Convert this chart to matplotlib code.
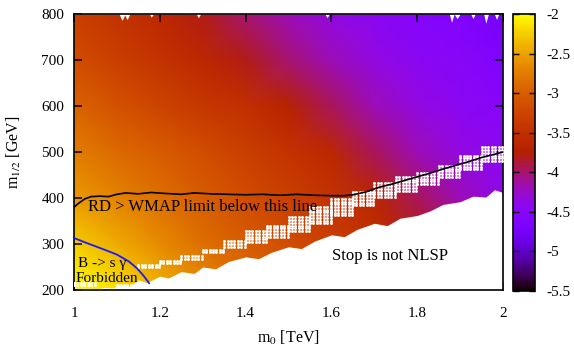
import numpy as np
import matplotlib
matplotlib.use("Agg")
import matplotlib.pyplot as plt

plt.rcParams['font.family'] = ['Liberation Serif', 'DejaVu Serif']
plt.rcParams['mathtext.fontset'] = 'stix'

# grid of the colour map
m0_grid = [1.0, 1.1, 1.2, 1.3, 1.4, 1.5, 1.6, 1.7, 1.8, 1.9, 2.0]
m12_grid = [200, 300, 400, 500, 600, 700, 800]
z_200 = [-2.0, -2.15, -2.4, -2.65, -2.85, -3.0, -3.15, -3.35, -3.55, -3.8, -4.05]
z_300 = [-2.25, -2.45, -2.65, -2.85, -3.0, -3.15, -3.3, -3.5, -3.75, -4.0, -4.25]
z_400 = [-2.55, -2.7, -2.85, -3.0, -3.15, -3.3, -3.45, -3.65, -3.95, -4.2, -4.4]
z_500 = [-2.75, -2.9, -3.0, -3.15, -3.3, -3.45, -3.6, -3.95, -4.2, -4.35, -4.45]
z_600 = [-2.95, -3.1, -3.25, -3.4, -3.5, -3.7, -3.95, -4.2, -4.35, -4.45, -4.5]
z_700 = [-3.15, -3.3, -3.45, -3.6, -3.8, -4.0, -4.2, -4.35, -4.45, -4.5, -4.6]
z_800 = [-3.3, -3.45, -3.6, -3.8, -4.0, -4.2, -4.35, -4.45, -4.55, -4.6, -4.75]

# lower edge of the scanned region ("Stop is not NLSP" below)
bound_m0 = [1.0, 1.03, 1.05, 1.07, 1.09, 1.11, 1.13, 1.15, 1.17, 1.20, 1.22, 1.25,
            1.28, 1.30, 1.33, 1.36, 1.40, 1.43, 1.46, 1.50, 1.53, 1.56, 1.60, 1.63,
            1.66, 1.70, 1.73, 1.76, 1.80, 1.83, 1.86, 1.90, 1.93, 1.96, 1.98, 2.0]
bound_m12 = [200, 203, 200, 206, 204, 212, 208, 222, 216, 230, 226, 240,
             236, 250, 246, 262, 272, 268, 282, 294, 290, 306, 320, 316,
             332, 345, 340, 356, 362, 372, 386, 392, 404, 402, 418, 412]

# upper edge (little gaps at 800 GeV)
top_m0 = [1.0, 1.105, 1.112, 1.118, 1.124, 1.13, 1.176, 1.18, 1.185, 1.285, 1.29,
          1.295, 1.585, 1.59, 1.595, 1.875, 1.88, 1.886, 1.893, 1.9, 1.925, 1.93,
          1.935, 1.955, 1.96, 1.966, 1.98, 1.985, 1.99, 2.0]
top_m12 = [800, 800, 786, 798, 788, 800, 800, 793, 800, 800, 792,
           800, 800, 792, 800, 800, 782, 800, 790, 800, 800, 790,
           800, 800, 780, 800, 800, 788, 800, 800]

# RD > WMAP contour
wmap_m0 = [1.0, 1.01, 1.025, 1.04, 1.06, 1.08, 1.10, 1.12, 1.15, 1.18, 1.21, 1.25,
           1.28, 1.32, 1.36, 1.40, 1.44, 1.48, 1.52, 1.56, 1.60, 1.63, 1.65, 1.68,
           1.71, 1.74, 1.77, 1.80, 1.83, 1.86, 1.89, 1.92, 1.95, 1.98, 2.0]
wmap_m12 = [380, 388, 398, 403, 404, 403, 408, 411, 409, 412, 410, 408,
            411, 409, 408, 407, 408, 406, 408, 406, 405, 405, 407, 413,
            423, 430, 438, 446, 454, 463, 471, 479, 488, 495, 500]

# b -> s gamma limit
bsg_m0 = [1.0, 1.03, 1.07, 1.10, 1.128, 1.147, 1.163, 1.175]
bsg_m12 = [313, 302, 288, 277, 262, 247, 230, 215]

# band of white scan points (per 0.05 TeV strip: lowest / highest m1/2)
band_m0 = [1.00, 1.05, 1.10, 1.15, 1.20, 1.25, 1.30, 1.35, 1.40, 1.45,
           1.50, 1.55, 1.60, 1.65, 1.70, 1.75, 1.80, 1.85, 1.90, 1.95]
band_lo = [210, 0, 210, 249, 258, 268, 282, 294, 304, 316,
           328, 345, 362, 384, 402, 416, 430, 446, 462, 480]
band_hi = [216, 0, 214, 255, 264, 276, 292, 310, 332, 345,
           362, 385, 403, 418, 432, 446, 456, 472, 492, 512]

cbar_ticks = [-5.5, -5, -4.5, -4, -3.5, -3, -2.5, -2]
cbar_labels = ['-5.5', '-5', '-4.5', '-4', '-3.5', '-3', '-2.5', '-2']
xticks = [1, 1.2, 1.4, 1.6, 1.8, 2]
xlabels = ['1', '1.2', '1.4', '1.6', '1.8', '2']
yticks = [200, 300, 400, 500, 600, 700, 800]

fig = plt.figure(figsize=(5.74, 3.48), dpi=100)
ax = fig.add_axes([74/574, 58/348, 429/574, 276/348])
cax = fig.add_axes([513/574, 57/348, 22/574, 277/348])

Z = np.array([z_200, z_300, z_400, z_500, z_600, z_700, z_800])
mesh = ax.pcolormesh(m0_grid, m12_grid, Z, shading='gouraud', cmap='gnuplot',
                     vmin=-5.5, vmax=-2, zorder=1)

ax.fill_between(bound_m0, 190, bound_m12, color='white', lw=0, zorder=2)
ax.fill_between(top_m0, top_m12, 810, color='white', lw=0, zorder=2)

dx, dy = 0.008, 6
px, py = [], []
for x0, lo, hi in zip(band_m0, band_lo, band_hi):
    if hi <= 0:
        continue
    for xx in np.arange(x0, x0 + 0.0499, dx):
        for yy in np.arange(lo, hi + 0.1, dy):
            px.append(xx)
            py.append(yy)
ax.scatter(px, py, s=4.5, color='white', lw=0, zorder=3)

ax.plot(wmap_m0, wmap_m12, color='black', lw=1.2, zorder=4)
ax.plot(bsg_m0, bsg_m12, color='#1a1aff', lw=1.3, zorder=4)

ax.text(1.033, 372, 'RD > WMAP limit below this line', fontsize=12, va='baseline', zorder=5)
ax.text(1.010, 251, 'B -> s \u03b3', fontsize=11, va='baseline', zorder=5)
ax.text(1.003, 217, 'Forbidden', fontsize=11, va='baseline', zorder=5)
ax.text(1.601, 265, 'Stop is not NLSP', fontsize=12, va='baseline', zorder=5)

ax.set_xlim(1, 2)
ax.set_ylim(200, 800)
ax.set_xticks(xticks)
ax.set_xticklabels(xlabels)
ax.set_yticks(yticks)
ax.tick_params(direction='in', top=True, right=True, length=6, width=1.1,
               labelsize=11)
ax.tick_params(axis='x', pad=12)
ax.tick_params(axis='y', pad=7)
for sp in ax.spines.values():
    sp.set_linewidth(1.2)

ax.set_xlabel('m$_0$ [TeV]', fontsize=11.5)
ax.set_ylabel('m$_{1/2}$ [GeV]', fontsize=11.5)
ax.xaxis.set_label_coords(0.5, -0.14)
ax.yaxis.set_label_coords(-0.12, 0.5)

cb = fig.colorbar(mesh, cax=cax, ticks=cbar_ticks)
cb.set_ticklabels(cbar_labels)
cb.outline.set_linewidth(1.2)
cax.tick_params(direction='in', left=True, right=True, length=4, width=1,
                labelsize=11, pad=8)

fig.savefig('out.png', dpi=100)
